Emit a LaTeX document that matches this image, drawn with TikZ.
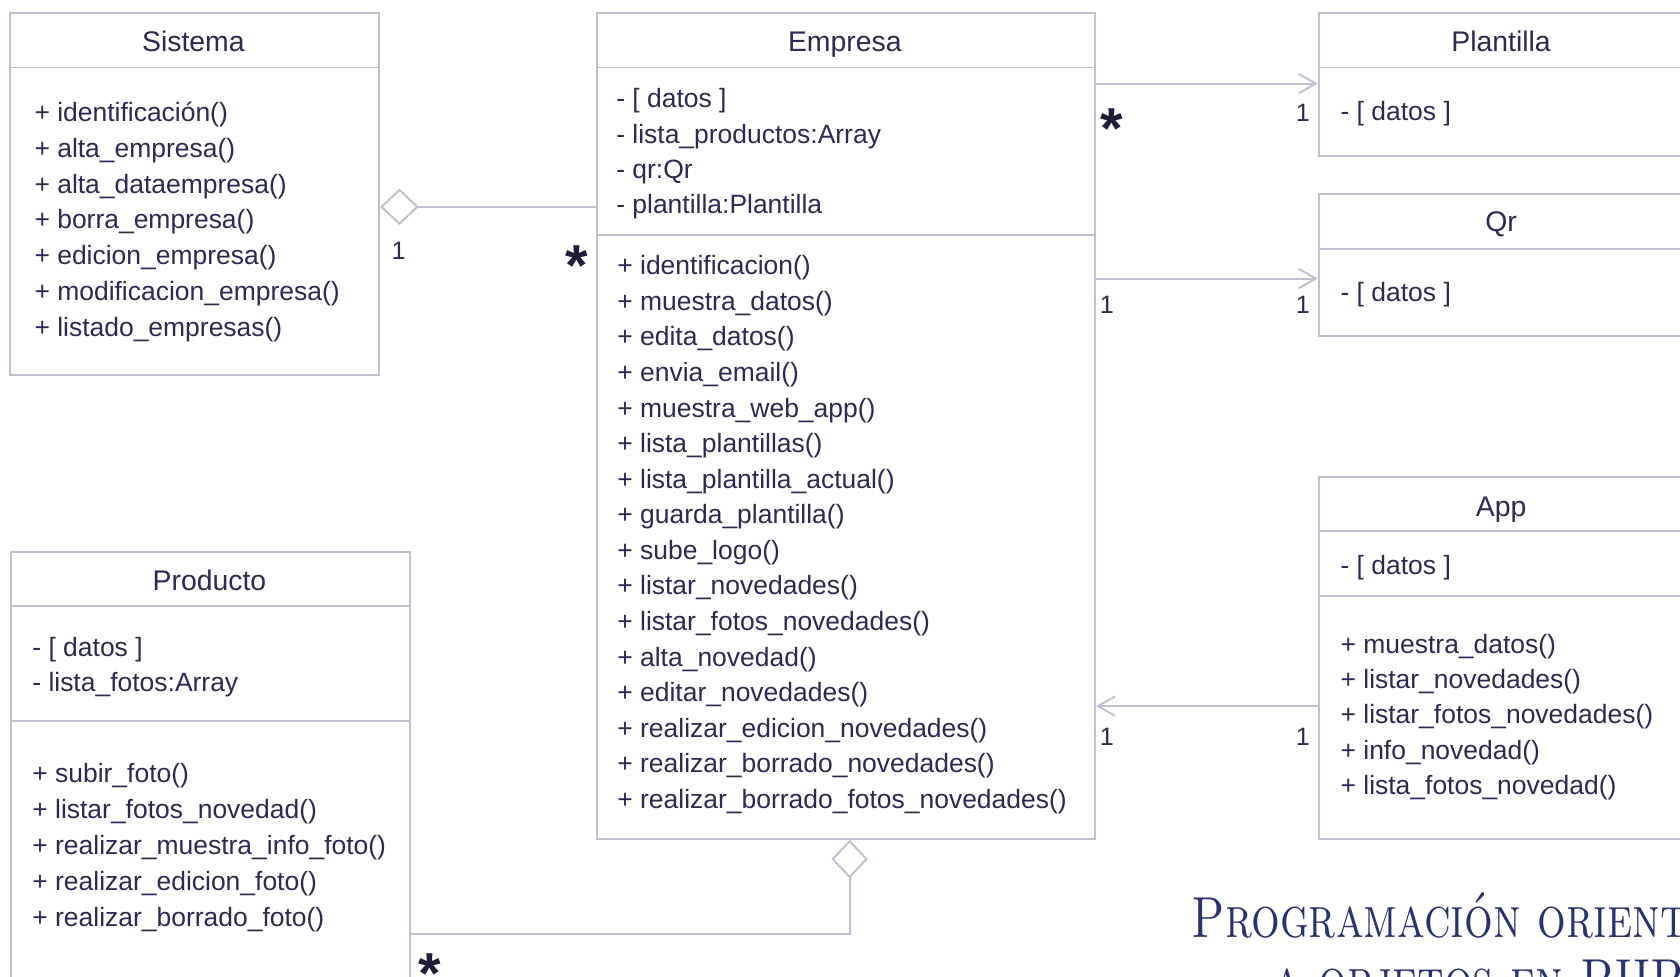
\documentclass[tikz,border=0pt]{standalone}
\usepackage{fontspec}
\newfontfamily\uml{Liberation Sans}
\usetikzlibrary{arrows.meta}
\definecolor{ln}{HTML}{C0C0D2}
\definecolor{txc}{HTML}{2B2B52}
\definecolor{ttl}{HTML}{27336B}
\begin{document}
\begin{tikzpicture}[x=1pt,y=-1pt,
  box/.style={draw=ln, line width=1.8pt, rectangle, inner sep=0pt, anchor=north west},
  sep/.style={draw=ln, line width=1.8pt},
  hd/.style={font=\uml\fontsize{26.5}{30}\selectfont, text=txc, inner sep=0pt, anchor=base},
  item/.style={font=\uml\fontsize{24.7}{30}\selectfont, text=txc, inner sep=0pt, anchor=base west},
  mult/.style={font=\uml\fontsize{23.5}{28}\selectfont, text=txc, inner sep=0pt, anchor=base},
  star/.style={font=\uml\bfseries\fontsize{54}{60}\selectfont, text=txc!70!black, inner sep=0pt, anchor=base},
  conn/.style={draw=ln, line width=1.8pt},
  nav/.style={conn, -{Straight Barb[length=16pt,width=18pt]}},
  agg/.style={conn, {Diamond[open,length=36pt,width=34pt]}-},
  ttlfont/.style={font=\fontsize{54}{60}\selectfont\scshape\addfontfeature{FakeBold=1.5}, text=ttl, inner sep=0pt, xscale=0.78, transform shape},
]
\useasboundingbox (0,0) rectangle (1568,911);
\fill[white] (0,0) rectangle (1568,911);
\clip (0,0) rectangle (1568,911);

% ---------- boxes ----------
\node[box, minimum width=345pt, minimum height=338pt] (sis) at (8,11) {};
\node[box, minimum width=465pt, minimum height=771pt] (emp) at (556,11) {};
\node[box, minimum width=342pt, minimum height=134pt] (pla) at (1230,11) {};
\node[box, minimum width=342pt, minimum height=133pt] (qr) at (1230,180) {};
\node[box, minimum width=342pt, minimum height=338pt] (app) at (1230,444) {};
\node[box, minimum width=373pt, minimum height=416pt] (pro) at (9,514) {};

% separators
\draw[sep] ([yshift=-52pt]sis.north west) -- ([yshift=-52pt]sis.north east);
\draw[sep] ([yshift=-52pt]emp.north west) -- ([yshift=-52pt]emp.north east);
\draw[sep] ([yshift=-208pt]emp.north west) -- ([yshift=-208pt]emp.north east);
\draw[sep] ([yshift=-52pt]pla.north west) -- ([yshift=-52pt]pla.north east);
\draw[sep] ([yshift=-52pt]qr.north west) -- ([yshift=-52pt]qr.north east);
\draw[sep] ([yshift=-52pt]app.north west) -- ([yshift=-52pt]app.north east);
\draw[sep] ([yshift=-112pt]app.north west) -- ([yshift=-112pt]app.north east);
\draw[sep] ([yshift=-52pt]pro.north west) -- ([yshift=-52pt]pro.north east);
\draw[sep] ([yshift=-159pt]pro.north west) -- ([yshift=-159pt]pro.north east);

% headers
\node[hd] (sis-h) at (180.5,48) {Sistema};
\node[hd] (emp-h) at (788.5,48) {Empresa};
\node[hd] (pla-h) at (1401,48) {Plantilla};
\node[hd] (qr-h) at (1401,216) {Qr};
\node[hd] (app-h) at (1401,482) {App};
\node[hd] (pro-h) at (195.5,551) {Producto};

% Sistema
\foreach \t [count=\i] in {{+ identificación()},{+ alta\_empresa()},{+ alta\_dataempresa()},{+ borra\_empresa()},{+ edicion\_empresa()},{+ modificacion\_empresa()},{+ listado\_empresas()}}
  \node[item] (sis-m\i) at (32,{113.5+33.4*(\i-1)}) {\t};

% Empresa
\foreach \t [count=\i] in {{- [ datos ]},{- lista\_productos:Array},{- qr:Qr},{- plantilla:Plantilla}}
  \node[item] (emp-a\i) at (575,{100.5+33*(\i-1)}) {\t};
\foreach \t [count=\i] in {{+ identificacion()},{+ muestra\_datos()},{+ edita\_datos()},{+ envia\_email()},{+ muestra\_web\_app()},{+ lista\_plantillas()},{+ lista\_plantilla\_actual()},{+ guarda\_plantilla()},{+ sube\_logo()},{+ listar\_novedades()},{+ listar\_fotos\_novedades()},{+ alta\_novedad()},{+ editar\_novedades()},{+ realizar\_edicion\_novedades()},{+ realizar\_borrado\_novedades()},{+ realizar\_borrado\_fotos\_novedades()}}
  \node[item] (emp-m\i) at (576,{256.5+33.2*(\i-1)}) {\t};

% Plantilla, Qr
\node[item] (pla-a1) at (1251,112.5) {- [ datos ]};
\node[item] (qr-a1) at (1251,281.5) {- [ datos ]};

% App
\node[item] (app-a1) at (1251,536.5) {- [ datos ]};
\foreach \t [count=\i] in {{+ muestra\_datos()},{+ listar\_novedades()},{+ listar\_fotos\_novedades()},{+ info\_novedad()},{+ lista\_fotos\_novedad()}}
  \node[item] (app-m\i) at (1251,{609.5+33*(\i-1)}) {\t};

% Producto
\foreach \t [count=\i] in {{- [ datos ]},{- lista\_fotos:Array}}
  \node[item] (pro-a\i) at (30,{612.5+33*(\i-1)}) {\t};
\foreach \t [count=\i] in {{+ subir\_foto()},{+ listar\_fotos\_novedad()},{+ realizar\_muestra\_info\_foto()},{+ realizar\_edicion\_foto()},{+ realizar\_borrado\_foto()}}
  \node[item] (pro-m\i) at (30,{730.5+33.5*(\i-1)}) {\t};

% ---------- connectors ----------
\coordinate (y1) at (0,193);
\coordinate (y2) at (0,78);
\coordinate (y3) at (0,260);
\coordinate (y4) at (0,659);
\coordinate (y5) at (0,872);
\coordinate (x6) at (793,0);
\draw[agg] (sis.east |- y1) -- (emp.west |- y1);
\draw[nav] (emp.east |- y2) -- (pla.west |- y2);
\draw[nav] (emp.east |- y3) -- (qr.west |- y3);
\draw[nav] (app.west |- y4) -- (emp.east |- y4);
\draw[agg] (emp.south -| x6) |- (pro.east |- y5);

% multiplicities
\node[mult] (m1) at (372,242) {1};
\node[star] (s1) at (538,266) {*};
\node[star] (s2) at (1038,139) {*};
\node[mult] (m2) at (1216,113) {1};
\node[mult] (m3) at (1033,293) {1};
\node[mult] (m4) at (1216,293) {1};
\node[mult] (m5) at (1033,696) {1};
\node[mult] (m6) at (1216,696) {1};
\node[star] (s3) at (401,927) {*};

% ---------- title ----------
\node[ttlfont, anchor=base west] (t1) at (1112,875) {Programación orientada};
\node[ttlfont, anchor=base] (t2) at ([yshift=-58pt]t1.base) {a objetos en PHP};
\end{tikzpicture}
\end{document}
